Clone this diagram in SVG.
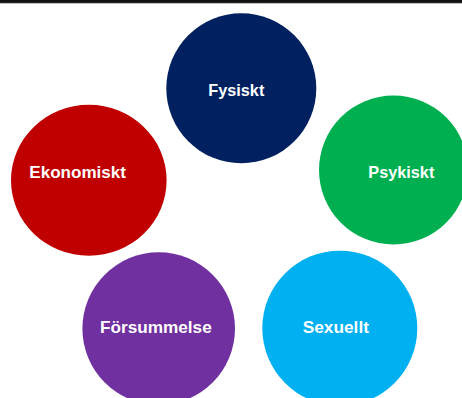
<svg xmlns="http://www.w3.org/2000/svg" width="462" height="398" viewBox="0 0 462 398">
<style>
.lbl{font-family:"Liberation Sans",Arial,sans-serif;font-weight:bold;font-size:17px;fill:#fff}
</style>
<rect x="0" y="0" width="462" height="398" fill="#fff"/>
<rect x="0" y="0" width="462" height="3" fill="#111"/>
<line x1="0" y1="3.3" x2="462" y2="3.3" stroke="#999" stroke-width="0.8"/>
<g id="connectors"></g>
<g id="fysiskt">
<circle cx="241.3" cy="88.3" r="75" fill="#002060"/>
<text class="lbl" x="208.3" y="95.7" textLength="56" lengthAdjust="spacingAndGlyphs">Fysiskt</text>
</g>
<g id="psykiskt">
<circle cx="393.5" cy="170" r="74.5" fill="#00B050"/>
<text class="lbl" x="368.3" y="177.5" textLength="66" lengthAdjust="spacingAndGlyphs">Psykiskt</text>
</g>
<g id="ekonomiskt">
<ellipse cx="88.8" cy="180.3" rx="77.8" ry="75.5" fill="#C00000"/>
<text class="lbl" x="29.3" y="178.2" textLength="96.7" lengthAdjust="spacingAndGlyphs">Ekonomiskt</text>
</g>
<g id="forsummelse">
<circle cx="158.7" cy="328.6" r="76.3" fill="#7030A0"/>
<text class="lbl" x="100" y="333.3" textLength="111.7" lengthAdjust="spacingAndGlyphs">Försummelse</text>
</g>
<g id="sexuellt">
<circle cx="339.8" cy="328.2" r="77.5" fill="#00B0F0"/>
<text class="lbl" x="302.7" y="332.7" textLength="66.3" lengthAdjust="spacingAndGlyphs">Sexuellt</text>
</g>
</svg>
